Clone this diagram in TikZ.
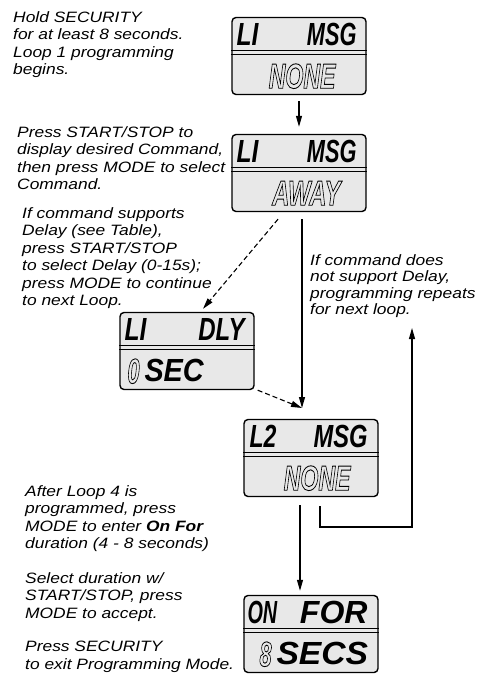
\documentclass[tikz,border=0pt]{standalone}
\usepackage{graphicx}
\usepackage{fontspec}
\setmainfont{Liberation Sans}
\newfontfamily\notefont[FakeStretch=1.16]{Liberation Sans}
\usetikzlibrary{arrows.meta,positioning,calc}
\newcommand\segtxt[2][0.7]{\scalebox{#1}[1]{#2}}
\newcommand\hollow[1]{\special{pdf:literal direct 0 G 0.9 w 1 Tr}#1\special{pdf:literal direct 0 Tr}}
\tikzset{
  lcd/.style={draw, line width=1.4pt, rounded corners=4pt, fill=black!9,
              minimum width=134pt, minimum height=77pt, inner sep=0pt},
  seg/.style={font=\bfseries\itshape\fontsize{32}{32}\selectfont, inner sep=0pt},
  seghollow/.style={seg, font=\bfseries\itshape\fontsize{35}{35}\selectfont},
  note/.style={font=\notefont\itshape\fontsize{15}{17.5}\selectfont, align=left,
               anchor=north west, inner sep=0pt},
  flow/.style={-{Triangle[length=11pt,width=6pt]}, line width=1.1pt},
  dflow/.style={flow, dash pattern=on 5pt off 3pt},
}

\begin{document}
\begin{tikzpicture}[x=1pt,y=-1pt]
\useasboundingbox (0,0) rectangle (479,674);

% ================================================== the displays
\node[lcd] (d1) at (299,56) {};
\node[lcd] (d2) at (299,173) {};
\node[lcd] (d3) at (187,351) {};
\node[lcd] (d4) at (311,458) {};
\node[lcd] (d5) at (311,634) {};
\foreach \p in {d1,d2,d3,d4,d5}{
  \draw[line width=0.9pt] ($(\p.north west)+(0,34)$) -- ($(\p.north east)+(0,34)$);
  \draw[line width=0.9pt] ($(\p.north west)+(0,38)$) -- ($(\p.north east)+(0,38)$);
}

\node[seg, anchor=west] (d1a) at ($(d1.north west)+(5,18)$) {\segtxt[0.77]{LI}};
\node[seg, anchor=east] (d1b) at ($(d1.north east)+(-10,18)$) {\segtxt[0.68]{MSG}};
\node[seghollow, anchor=east] (d1c) at ($(d1.south east)+(-31,-19)$) {\segtxt[0.66]{\hollow{NONE}}};

\node[seg, anchor=west] (d2a) at ($(d2.north west)+(5,18)$) {\segtxt[0.77]{LI}};
\node[seg, anchor=east] (d2b) at ($(d2.north east)+(-10,18)$) {\segtxt[0.68]{MSG}};
\node[seghollow, anchor=east] (d2c) at ($(d2.south east)+(-26,-19)$) {\segtxt[0.68]{\hollow{AWAY}}};

\node[seg, anchor=west] (d3a) at ($(d3.north west)+(5,18)$) {\segtxt[0.77]{LI}};
\node[seg, anchor=east] (d3b) at ($(d3.north east)+(-10,18)$) {\segtxt[0.75]{DLY}};
\node[seghollow, anchor=west] (d3c) at ($(d3.south west)+(8,-19)$) {\segtxt[0.62]{\hollow{0}}};
\node[seg, anchor=west] (d3d) at ($(d3.south west)+(25,-20)$) {\segtxt[0.9]{SEC}};

\node[seg, anchor=west] (d4a) at ($(d4.north west)+(6,18)$) {\segtxt[0.72]{L2}};
\node[seg, anchor=east] (d4b) at ($(d4.north east)+(-11,18)$) {\segtxt[0.74]{MSG}};
\node[seghollow, anchor=east] (d4c) at ($(d4.south east)+(-28,-19)$) {\segtxt[0.66]{\hollow{NONE}}};

\node[seg, anchor=west] (d5a) at ($(d5.north west)+(4,18)$) {\segtxt[0.62]{ON}};
\node[seg, anchor=east] (d5b) at ($(d5.north east)+(-11,18)$) {\segtxt[1.0]{FOR}};
\node[seghollow, anchor=west] (d5c) at ($(d5.south west)+(16,-19)$) {\segtxt[0.62]{\hollow{8}}};
\node[seg, anchor=west] (d5d) at ($(d5.south west)+(33,-20)$) {\segtxt[1.05]{SECS}};

% ================================================== connectors
\coordinate (meet) at (302,408);
\coordinate (turn) at (412,527);
\coordinate (back) at (412,328);

\draw[flow, shorten <=6pt, shorten >=7pt] (d1.south) -- (d2.north);
\draw[flow, shorten <=7pt] (d2.south -| meet) -- (meet);
\draw[dflow] ($(d2.south)+(-21,7)$) -- ($(d3.north)+(16,-3)$);
\draw[dflow] ($(d3.south east)+(3,0)$) -- (meet);
\draw[flow] ($(d4.south)+(-11,8)$) -- ($(d5.north)+(-11,-4)$);
\draw[flow] ($(d4.south)+(9,9)$) |- (turn) -- (back);

% ================================================== instructions
\node[note] (t1) at (13,11) {Hold SECURITY\\for at least 8 seconds.\\Loop 1 programming\\begins.};
\node[note] (t2) at (17,126) {Press START/STOP to\\display desired Command,\\then press MODE to select\\Command.};
\node[note] (t3) at (22,207) {If command supports\\Delay (see Table),\\press START/STOP\\to select Delay (0-15s);\\press MODE to continue\\to next Loop.};
\node[note, font=\notefont\itshape\fontsize{15}{16.5}\selectfont] (t4) at (310,254) {If command does\\not support Delay,\\programming repeats\\for next loop.};
\node[note] (t5) at (25,485) {After Loop 4 is\\programmed, press\\MODE to enter \textbf{On For}\\duration (4 - 8 seconds)};
\node[note] (t6) at (25,572) {Select duration w/\\START/STOP, press\\MODE to accept.};
\node[note] (t7) at (25,641) {Press SECURITY\\to exit Programming Mode.};

\end{tikzpicture}
\end{document}
